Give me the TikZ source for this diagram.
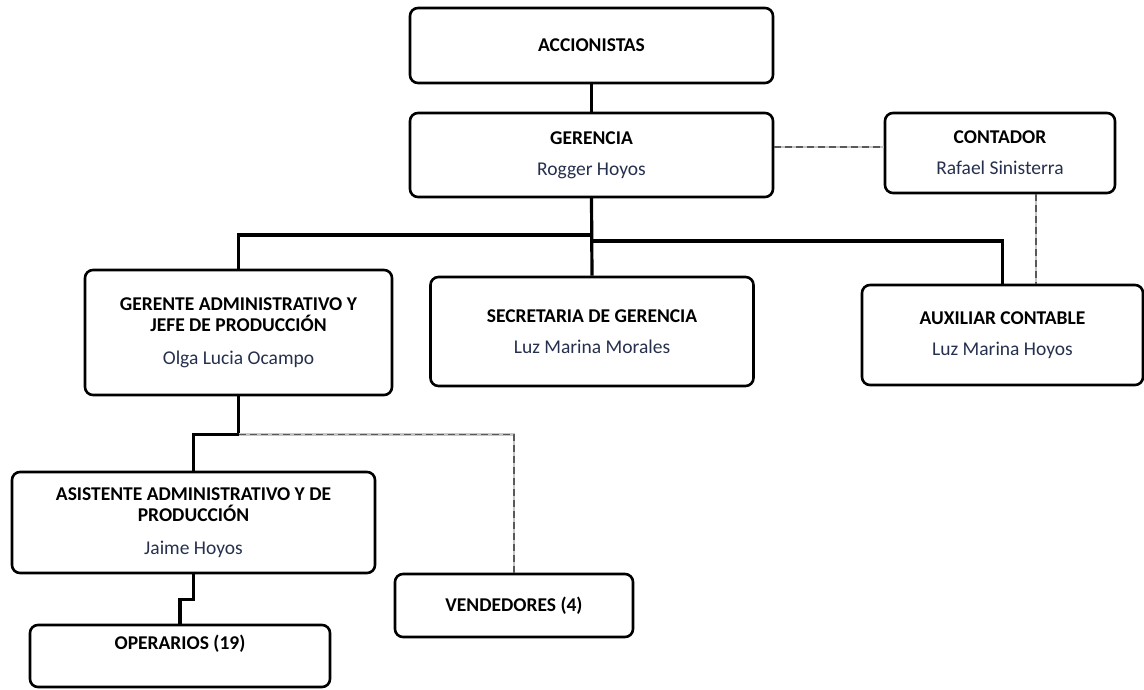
\documentclass[tikz,border=0pt]{standalone}
\usepackage{fontspec}
\setmainfont{Carlito}
\usepackage{xcolor}
\usetikzlibrary{positioning,calc}
\definecolor{nombre}{RGB}{38,48,78}

\begin{document}
\begin{tikzpicture}[
  x=1pt, y=-1pt,
  every node/.style={inner sep=2pt},
  unit/.style={draw, line width=2.6pt, rounded corners=8pt, align=center, font=\fontsize{19.5}{21}\selectfont},
  link/.style={line width=3.2pt},
  dlink/.style={draw=gray!45, line width=2.4pt, postaction={draw=black!65, line width=1.4pt, dash pattern=on 7pt off 4pt}}
]
\useasboundingbox (0,0) rectangle (1144,690);

% --- top: owners and management ---
\node[unit, minimum width=363pt, minimum height=75pt] (acc) at (591.5,45.5) {\textbf{ACCIONISTAS}};
\node[unit, minimum width=363pt, minimum height=84pt] (ger) at (591.5,155) {\textbf{GERENCIA}\\[10pt] {\color{nombre}Rogger Hoyos}};
\node[unit, minimum width=230pt, minimum height=80pt] (cont) at (1000,153) {\textbf{CONTADOR}\\[10pt] {\color{nombre}Rafael Sinisterra}};

% --- second level ---
\node[unit, minimum width=307pt, minimum height=125pt] (gadm) at (238.5,332.5) {\textbf{GERENTE ADMINISTRATIVO Y}\\ \textbf{JEFE DE PRODUCCIÓN}\\[12pt] {\color{nombre}Olga Lucia Ocampo}};
\node[unit, minimum width=323pt, minimum height=109pt] (sec) at (592,331.5) {\textbf{SECRETARIA DE GERENCIA}\\[10pt] {\color{nombre}Luz Marina Morales}};
\node[unit, minimum width=281pt, minimum height=100pt] (aux) at (1002.5,335) {\textbf{AUXILIAR CONTABLE}\\[10pt] {\color{nombre}Luz Marina Hoyos}};

% --- production side ---
\node[unit, minimum width=363pt, minimum height=101pt] (asis) at (193.5,522.5) {\textbf{ASISTENTE ADMINISTRATIVO Y DE}\\ \textbf{PRODUCCIÓN}\\[12pt] {\color{nombre}Jaime Hoyos}};
\node[unit, minimum width=238pt, minimum height=63pt] (vend) at (514,605.5) {\textbf{VENDEDORES (4)}};
\node[unit, minimum width=300pt, minimum height=62pt] (oper) at (180,656) {\textbf{OPERARIOS (19)}\\ \strut};

% solid lines
\draw[link] (acc.south) -- (ger.north);
\draw[link] (ger.south) -- (sec.north);
\draw[link] (ger.south) |- (238.5,235) -- (gadm.north);
\draw[link] (ger.south) |- (1002.5,241) -- (aux.north);
\draw[link] (gadm.south) -- ++(0,38) -| (asis.north);
\draw[link] (asis.south) -- ++(0,25) -| (oper.north);

% dashed lines
\draw[dlink] ([yshift=8pt]ger.east) -- ([yshift=8pt]ger.east -| cont.west);
\draw[dlink] ([xshift=36pt]cont.south) -- ([xshift=36pt]cont.south |- aux.north);
\draw[dlink] (gadm.south) ++(0,38) -| (vend.north);

\end{tikzpicture}
\end{document}
